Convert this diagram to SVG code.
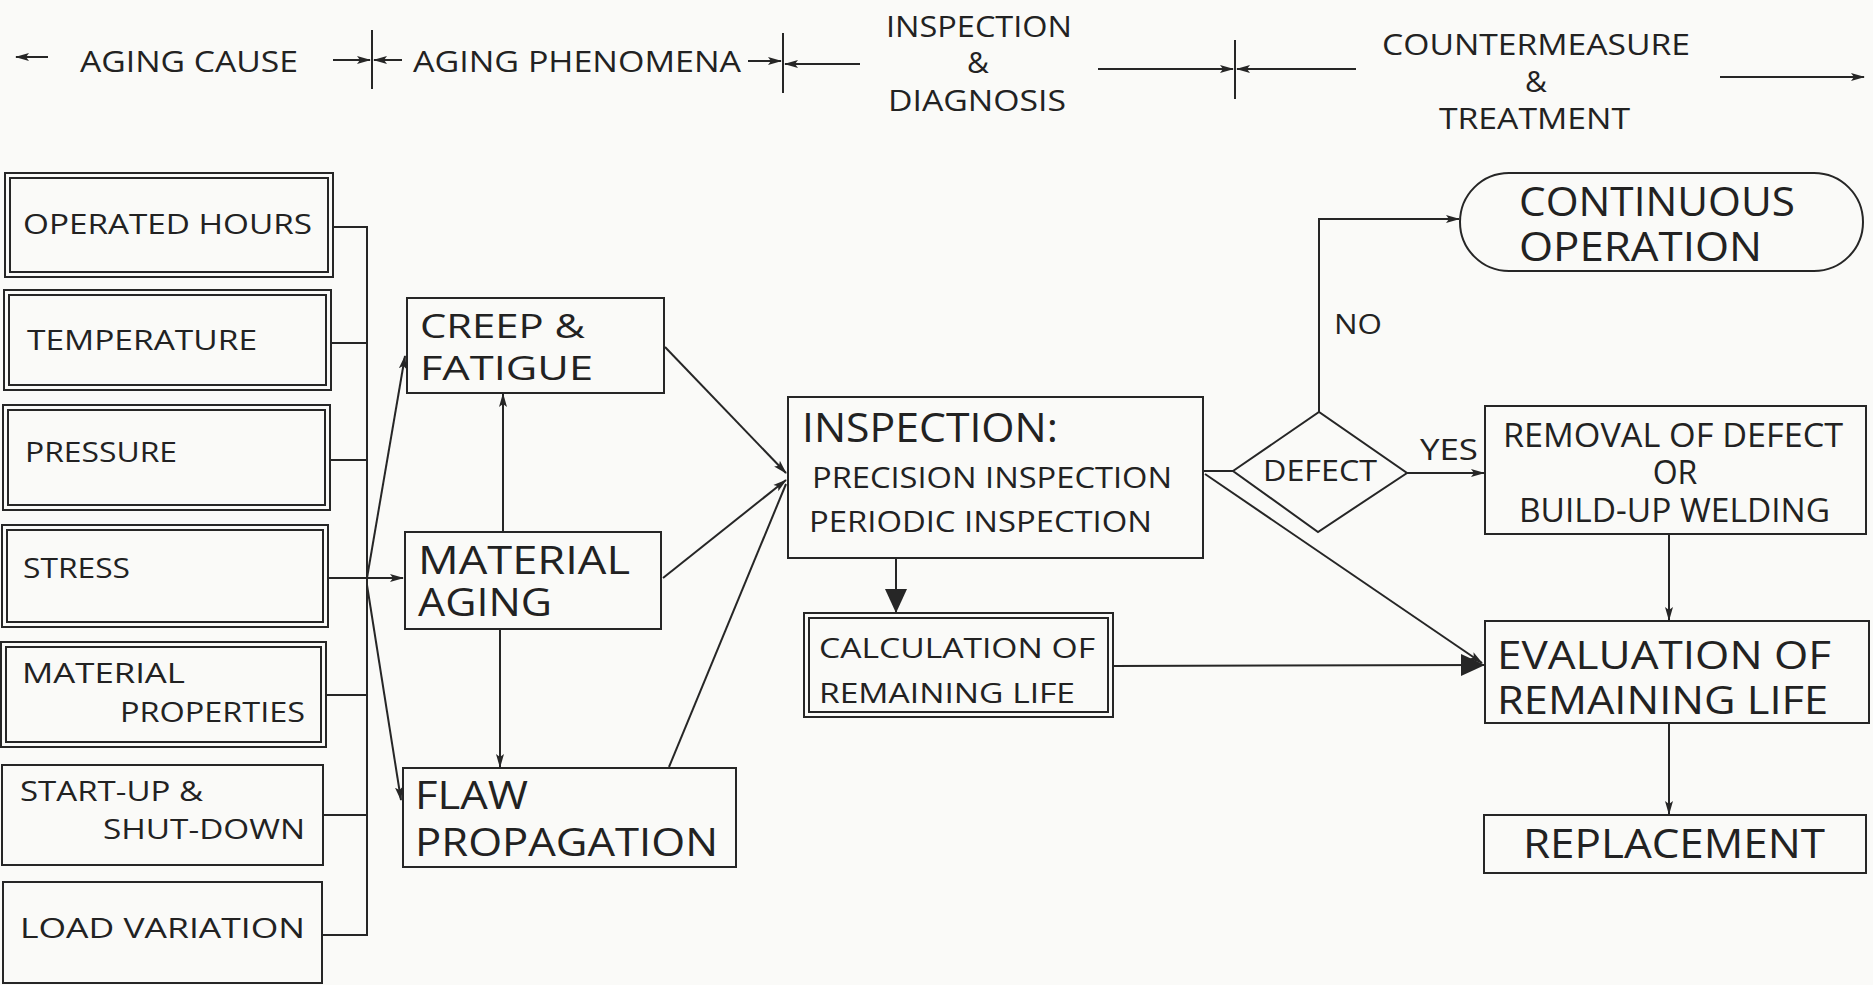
<svg xmlns="http://www.w3.org/2000/svg" width="1873" height="985" viewBox="0 0 1873 985">
<style>
.bx{fill:none;stroke:#262626;stroke-width:2}
.ln{fill:none;stroke:#262626;stroke-width:2}
.t{font-family:"Open Sans","Noto Sans","DejaVu Sans",sans-serif;fill:#222}
.h{font-size:30px}
.s{font-size:28px}
</style>
<defs>
<marker id="a" viewBox="0 0 14 10" refX="13" refY="5" markerWidth="14" markerHeight="10" markerUnits="userSpaceOnUse" orient="auto">
<path d="M0,1 L14,5 L0,9 L3,5 z" fill="#262626"/>
</marker>
<marker id="big" viewBox="0 0 24 24" refX="23" refY="12" markerWidth="24" markerHeight="24" markerUnits="userSpaceOnUse" orient="auto">
<path d="M0,1 L24,12 L0,23 z" fill="#262626"/>
</marker>
</defs>
<rect x="0" y="0" width="1873" height="985" fill="#fafaf8"/>

<g id="header">
<text class="t h" x="80" y="72" textLength="218" lengthAdjust="spacingAndGlyphs">AGING CAUSE</text>
<text class="t h" x="413" y="72" textLength="328" lengthAdjust="spacingAndGlyphs">AGING PHENOMENA</text>
<text class="t h" x="886" y="37" textLength="186" lengthAdjust="spacingAndGlyphs">INSPECTION</text>
<text class="t h" x="978" y="73" text-anchor="middle">&amp;</text>
<text class="t h" x="888" y="111" textLength="178" lengthAdjust="spacingAndGlyphs">DIAGNOSIS</text>
<text class="t h" x="1382" y="55" textLength="308" lengthAdjust="spacingAndGlyphs">COUNTERMEASURE</text>
<text class="t h" x="1536" y="92" text-anchor="middle">&amp;</text>
<text class="t h" x="1439" y="129" textLength="191" lengthAdjust="spacingAndGlyphs">TREATMENT</text>
<line class="ln" x1="48" y1="57" x2="16" y2="57" marker-end="url(#a)"/>
<line class="ln" x1="333" y1="60" x2="370" y2="60" marker-end="url(#a)"/>
<line class="ln" x1="372" y1="30" x2="372" y2="89"/>
<line class="ln" x1="402" y1="60" x2="374" y2="60" marker-end="url(#a)"/>
<line class="ln" x1="748" y1="61" x2="781" y2="61" marker-end="url(#a)"/>
<line class="ln" x1="783" y1="33" x2="783" y2="93"/>
<line class="ln" x1="860" y1="64" x2="785" y2="64" marker-end="url(#a)"/>
<line class="ln" x1="1098" y1="69" x2="1233" y2="69" marker-end="url(#a)"/>
<line class="ln" x1="1235" y1="40" x2="1235" y2="99"/>
<line class="ln" x1="1356" y1="69" x2="1237" y2="69" marker-end="url(#a)"/>
<line class="ln" x1="1720" y1="77" x2="1864" y2="77" marker-end="url(#a)"/>
</g>

<g id="n-operated-hours">
<rect class="bx" x="5" y="173" width="328" height="104"/>
<rect class="bx" x="10" y="178" width="318" height="94"/>
<text class="t s" x="23" y="234" textLength="289" lengthAdjust="spacingAndGlyphs">OPERATED HOURS</text>
</g>
<g id="n-temperature">
<rect class="bx" x="4" y="290" width="327" height="100"/>
<rect class="bx" x="9" y="295" width="317" height="90"/>
<text class="t s" x="27" y="350" textLength="230" lengthAdjust="spacingAndGlyphs">TEMPERATURE</text>
</g>
<g id="n-pressure">
<rect class="bx" x="3" y="405" width="327" height="105"/>
<rect class="bx" x="8" y="410" width="317" height="95"/>
<text class="t s" x="25" y="462" textLength="152" lengthAdjust="spacingAndGlyphs">PRESSURE</text>
</g>
<g id="n-stress">
<rect class="bx" x="2" y="525" width="326" height="102"/>
<rect class="bx" x="7" y="530" width="316" height="92"/>
<text class="t s" x="23" y="578" textLength="107" lengthAdjust="spacingAndGlyphs">STRESS</text>
</g>
<g id="n-material-properties">
<rect class="bx" x="1" y="642" width="325" height="105"/>
<rect class="bx" x="6" y="647" width="315" height="95"/>
<text class="t s" x="22" y="683" textLength="163" lengthAdjust="spacingAndGlyphs">MATERIAL</text>
<text class="t s" x="120" y="722" textLength="185" lengthAdjust="spacingAndGlyphs">PROPERTIES</text>
</g>
<g id="n-startup">
<rect class="bx" x="2" y="765" width="321" height="100"/>
<text class="t s" x="20" y="801" textLength="183" lengthAdjust="spacingAndGlyphs">START-UP &amp;</text>
<text class="t s" x="103" y="839" textLength="202" lengthAdjust="spacingAndGlyphs">SHUT-DOWN</text>
</g>
<g id="n-load-variation">
<rect class="bx" x="3" y="882" width="319" height="101"/>
<text class="t s" x="20" y="938" textLength="285" lengthAdjust="spacingAndGlyphs">LOAD VARIATION</text>
</g>

<g id="n-creep">
<rect class="bx" x="407" y="298" width="257" height="95"/>
<text class="t" font-size="33" x="420" y="338" textLength="165" lengthAdjust="spacingAndGlyphs">CREEP &amp;</text>
<text class="t" font-size="33" x="420" y="380" textLength="173" lengthAdjust="spacingAndGlyphs">FATIGUE</text>
</g>
<g id="n-material-aging">
<rect class="bx" x="405" y="532" width="256" height="97"/>
<text class="t" font-size="39" x="418" y="574" textLength="212" lengthAdjust="spacingAndGlyphs">MATERIAL</text>
<text class="t" font-size="39" x="418" y="616" textLength="134" lengthAdjust="spacingAndGlyphs">AGING</text>
</g>
<g id="n-flaw">
<rect class="bx" x="403" y="768" width="333" height="99"/>
<text class="t" font-size="39" x="415" y="809" textLength="113" lengthAdjust="spacingAndGlyphs">FLAW</text>
<text class="t" font-size="39" x="415" y="856" textLength="303" lengthAdjust="spacingAndGlyphs">PROPAGATION</text>
</g>

<g id="n-inspection">
<rect class="bx" x="788" y="397" width="415" height="161"/>
<text class="t" font-size="41" x="802" y="442" textLength="256" lengthAdjust="spacingAndGlyphs">INSPECTION:</text>
<text class="t h" x="812" y="488" textLength="360" lengthAdjust="spacingAndGlyphs">PRECISION INSPECTION</text>
<text class="t h" x="809" y="532" textLength="343" lengthAdjust="spacingAndGlyphs">PERIODIC INSPECTION</text>
</g>
<g id="n-calculation">
<rect class="bx" x="804" y="613" width="309" height="104"/>
<rect class="bx" x="809" y="618" width="299" height="94"/>
<text class="t s" x="819" y="658" textLength="276" lengthAdjust="spacingAndGlyphs">CALCULATION OF</text>
<text class="t s" x="819" y="703" textLength="256" lengthAdjust="spacingAndGlyphs">REMAINING LIFE</text>
</g>
<g id="n-defect">
<polygon class="bx" points="1233,471 1319,412 1407,473 1318,532"/>
<text class="t" font-size="29" x="1263" y="481" textLength="114" lengthAdjust="spacingAndGlyphs">DEFECT</text>
</g>
<g id="n-continuous">
<rect class="bx" x="1460" y="173" width="403" height="98" rx="49" ry="49"/>
<text class="t" font-size="40" x="1519" y="216" textLength="276" lengthAdjust="spacingAndGlyphs">CONTINUOUS</text>
<text class="t" font-size="40" x="1519" y="261" textLength="243" lengthAdjust="spacingAndGlyphs">OPERATION</text>
</g>
<g id="n-removal">
<rect class="bx" x="1485" y="406" width="381" height="128"/>
<text class="t" font-size="32" x="1503" y="447" textLength="340" lengthAdjust="spacingAndGlyphs">REMOVAL OF DEFECT</text>
<text class="t" font-size="32" x="1675" y="484" text-anchor="middle">OR</text>
<text class="t" font-size="32" x="1519" y="522" textLength="311" lengthAdjust="spacingAndGlyphs">BUILD-UP WELDING</text>
</g>
<g id="n-evaluation">
<rect class="bx" x="1485" y="621" width="384" height="102"/>
<text class="t" font-size="39" x="1497" y="669" textLength="334" lengthAdjust="spacingAndGlyphs">EVALUATION OF</text>
<text class="t" font-size="39" x="1497" y="714" textLength="331" lengthAdjust="spacingAndGlyphs">REMAINING LIFE</text>
</g>
<g id="n-replacement">
<rect class="bx" x="1484" y="815" width="382" height="58"/>
<text class="t" font-size="40" x="1523" y="858" textLength="302" lengthAdjust="spacingAndGlyphs">REPLACEMENT</text>
</g>

<g id="connectors">
<polyline class="ln" points="333,227 367,227 367,935 322,935"/>
<line class="ln" x1="331" y1="343" x2="367" y2="343"/>
<line class="ln" x1="330" y1="460" x2="367" y2="460"/>
<line class="ln" x1="326" y1="695" x2="367" y2="695"/>
<line class="ln" x1="323" y1="815" x2="367" y2="815"/>
<line class="ln" x1="328" y1="578" x2="403" y2="578" marker-end="url(#a)"/>
<line class="ln" x1="367" y1="578" x2="405" y2="356" marker-end="url(#a)"/>
<line class="ln" x1="367" y1="585" x2="401" y2="800" marker-end="url(#a)"/>
<line class="ln" x1="503" y1="532" x2="503" y2="394" marker-end="url(#a)"/>
<line class="ln" x1="500" y1="629" x2="500" y2="767" marker-end="url(#a)"/>
<line class="ln" x1="665" y1="347" x2="786" y2="473" marker-end="url(#a)"/>
<line class="ln" x1="663" y1="578" x2="786" y2="480" marker-end="url(#a)"/>
<line class="ln" x1="669" y1="767" x2="786" y2="484"/>
<line class="ln" x1="896" y1="558" x2="896" y2="612" stroke-width="3" marker-end="url(#big)"/>
<line class="ln" x1="1113" y1="666" x2="1484" y2="665" stroke-width="3" marker-end="url(#big)"/>
<line class="ln" x1="1203" y1="471" x2="1233" y2="471"/>
<line class="ln" x1="1205" y1="474" x2="1482" y2="663" marker-end="url(#a)"/>
<polyline class="ln" points="1319,412 1319,219 1459,219" marker-end="url(#a)"/>
<text class="t s" x="1334" y="334" textLength="48" lengthAdjust="spacingAndGlyphs">NO</text>
<line class="ln" x1="1407" y1="473" x2="1484" y2="473" marker-end="url(#a)"/>
<text class="t" font-size="29" x="1420" y="460" textLength="58" lengthAdjust="spacingAndGlyphs">YES</text>
<line class="ln" x1="1669" y1="534" x2="1669" y2="620" marker-end="url(#a)"/>
<line class="ln" x1="1669" y1="723" x2="1669" y2="814" marker-end="url(#a)"/>
</g>
</svg>
